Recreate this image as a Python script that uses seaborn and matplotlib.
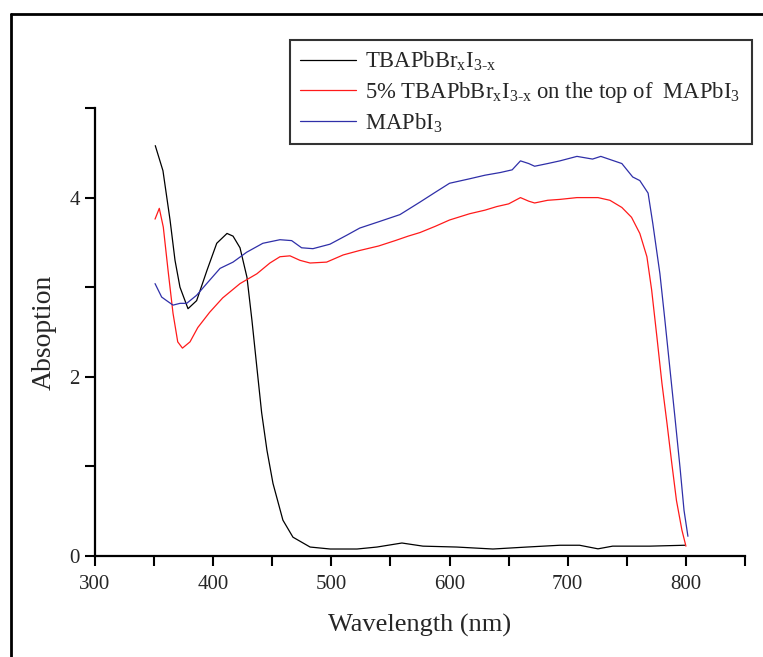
import numpy as np
import matplotlib
matplotlib.use("Agg")
import matplotlib.pyplot as plt
from matplotlib.ticker import MultipleLocator
from matplotlib.lines import Line2D
import pandas as pd
import seaborn as sns

# TBAPbBrxI3-x film
wl_black = [351, 357.5, 363.5, 367.7, 371.9, 378.7, 386, 394.8, 403, 411.7, 416.8, 422.7,
            428.6, 432.8, 437, 441, 445.5, 450.6, 459, 467.5, 482, 499, 521.7, 538.6,
            559.7, 577.5, 606, 636.7, 665.5, 693.4, 710, 725.6, 738, 769.5, 799]
abs_black = [4.58, 4.30, 3.75, 3.30, 3.00, 2.76, 2.85, 3.19, 3.49, 3.60, 3.57, 3.44,
             3.11, 2.63, 2.10, 1.60, 1.18, 0.81, 0.40, 0.21, 0.10, 0.078, 0.078, 0.10,
             0.145, 0.11, 0.10, 0.078, 0.10, 0.12, 0.12, 0.08, 0.11, 0.11, 0.12]

# 5% TBAPbBrxI3-x on top of MAPbI3
wl_red = [350.8, 354.4, 357.8, 361.8, 366, 370, 374, 380.4, 387, 397, 408, 422.7, 437,
          448, 456.5, 465, 473.4, 482, 496, 510, 524, 540, 554, 565, 575, 588, 600, 617,
          630, 640, 650, 660, 667, 672, 683, 693.4, 707.8, 725.6, 735.7, 745.8, 754, 761,
          767, 771, 775.5, 779.7, 784, 788, 792, 796.6, 800]
abs_red = [3.76, 3.88, 3.67, 3.19, 2.71, 2.39, 2.32, 2.39, 2.55, 2.72, 2.88, 3.04, 3.15,
           3.27, 3.34, 3.35, 3.30, 3.27, 3.28, 3.36, 3.41, 3.46, 3.52, 3.57, 3.61, 3.68,
           3.75, 3.82, 3.86, 3.90, 3.93, 4.00, 3.96, 3.94, 3.97, 3.98, 4.00, 4.00, 3.97,
           3.89, 3.78, 3.60, 3.34, 2.97, 2.44, 1.93, 1.48, 1.04, 0.62, 0.29, 0.11]

# MAPbI3 film
wl_blue = [350.8, 356.4, 360.6, 366, 372, 377.6, 386, 394.5, 405.8, 416.8, 428.3, 442,
           456.5, 466.4, 474.8, 484.4, 498.8, 513, 524, 540, 558, 575, 588, 600, 617, 630,
           643, 653, 660, 667, 672, 683, 693.4, 707.8, 721, 728, 745.8, 755, 761, 768, 772,
           778, 782, 786, 790.7, 795, 798.4, 801.7]
abs_blue = [3.04, 2.89, 2.85, 2.80, 2.82, 2.82, 2.91, 3.04, 3.21, 3.28, 3.39, 3.49, 3.53,
            3.52, 3.44, 3.43, 3.48, 3.58, 3.66, 3.73, 3.81, 3.95, 4.06, 4.16, 4.21, 4.25,
            4.28, 4.31, 4.41, 4.38, 4.35, 4.38, 4.41, 4.46, 4.43, 4.46, 4.38, 4.23, 4.19,
            4.05, 3.71, 3.15, 2.66, 2.15, 1.55, 0.99, 0.51, 0.22]

labels = [r"TBAPbBr$_\mathregular{x}$I$_\mathregular{3\text{-}x}$",
          r"5% TBAPbBr$_\mathregular{x}$I$_\mathregular{3\text{-}x}$ on the top of  MAPbI$_\mathregular{3}$",
          r"MAPbI$_\mathregular{3}$"]
colors = ["black", "#ff1a1a", "#2f2fa8"]

sns.set_style("ticks")
plt.rcParams["font.family"] = ["Liberation Serif", "DejaVu Serif"]
plt.rcParams["mathtext.fontset"] = "custom"
plt.rcParams["mathtext.rm"] = "Liberation Serif"
plt.rcParams["mathtext.sf"] = "Liberation Serif"

fig = plt.figure(figsize=(7.63, 6.57), dpi=100)
ax = fig.add_axes([95 / 763, 1 - 556 / 657, 650 / 763, 448 / 657])

for wl, ab, lab, c in zip([wl_black, wl_red, wl_blue], [abs_black, abs_red, abs_blue], labels, colors):
    df = pd.DataFrame({"wl": wl, "abs": ab})
    sns.lineplot(data=df, x="wl", y="abs", ax=ax, color=c, lw=0.9, label=lab, sort=False)

ax.set_xlim(300, 850)
ax.set_ylim(0, 5)
ax.xaxis.set_major_locator(MultipleLocator(100))
ax.xaxis.set_minor_locator(MultipleLocator(50))
ax.yaxis.set_major_locator(MultipleLocator(2))
ax.yaxis.set_minor_locator(MultipleLocator(1))
ax.tick_params(which="both", direction="out", length=7, width=1.5, color="black")
ax.tick_params(axis="both", labelsize=15)
ax.tick_params(axis="x", pad=7)
ax.tick_params(axis="y", pad=4)
for s in ["top", "right"]:
    ax.spines[s].set_visible(False)
for s in ["left", "bottom"]:
    ax.spines[s].set_linewidth(1.6)
    ax.spines[s].set_color("black")

ax.set_xlabel("Wavelength (nm)", fontsize=19, labelpad=14)
ax.set_ylabel("Absoption", fontsize=20, labelpad=9)

leg = ax.legend(loc="upper left", bbox_to_anchor=(290 / 763, 1 - 40 / 657, 462 / 763, 0),
                bbox_transform=fig.transFigure, mode="expand", borderaxespad=0,
                fontsize=16.3, handlelength=2.5, handletextpad=0.4, labelspacing=0.28,
                fancybox=False, frameon=True, borderpad=0.42)
leg.get_frame().set_edgecolor("black")
leg.get_frame().set_linewidth(1.5)
for line in leg.get_lines():
    line.set_linewidth(0.9)

# outer frame of the picture (cut at right and bottom)
fx = 10.5 / 763
fy = 1 - 14 / 657
fig.add_artist(Line2D([fx, fx], [0, fy], transform=fig.transFigure, color="black", lw=2))
fig.add_artist(Line2D([fx, 1], [fy, fy], transform=fig.transFigure, color="black", lw=2))

fig.savefig("out.png", dpi=100)
